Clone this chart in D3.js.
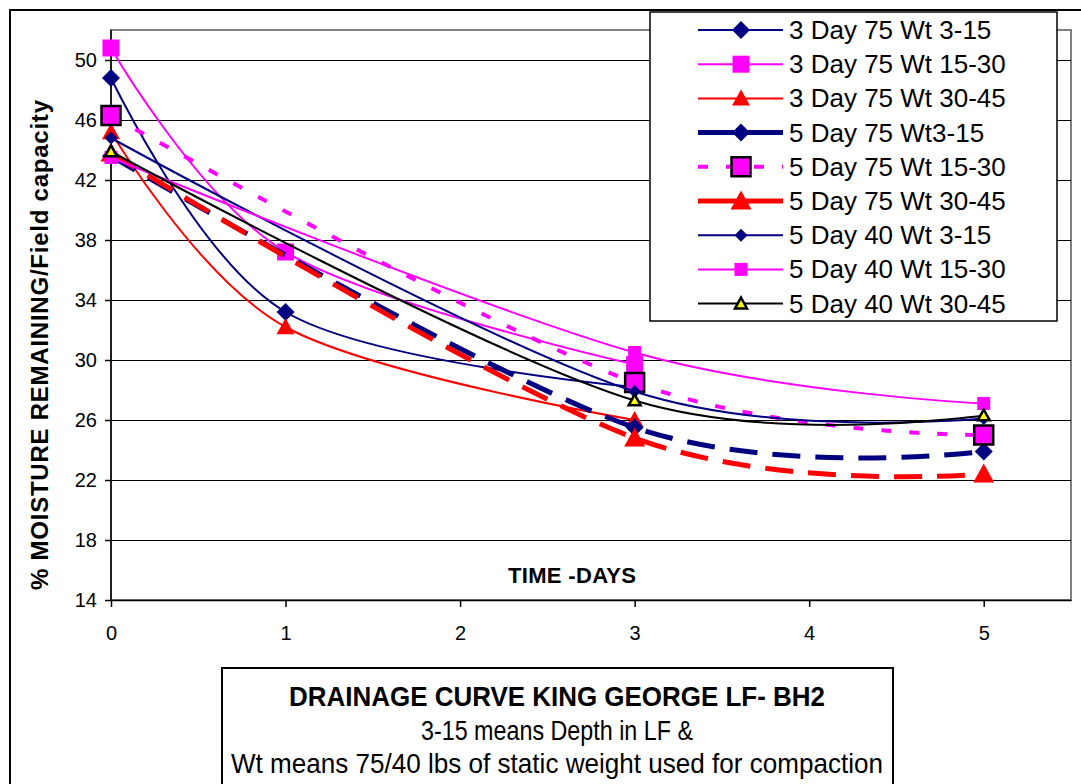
<!DOCTYPE html>
<html>
<head>
<meta charset="utf-8">
<script src="https://cdn.jsdelivr.net/npm/d3@7"></script>
<style>
  body { margin: 0; background: #fff; }
  text { font-family: 'Liberation Sans', Arial, sans-serif; fill: #000; }
</style>
</head>
<body>
<script>
// tick values
const xTicks = [0, 1, 2, 3, 4, 5];
const yTicks = [14, 18, 22, 26, 30, 34, 38, 42, 46, 50];

// sampling days for the 3 day and 5 day runs
const days3 = [0, 1, 3];
const days5 = [0, 3, 5];

// % moisture remaining
const day3wt75d3to15  = [48.8, 33.2, 28.2];
const day3wt75d15to30 = [50.8, 37.2, 29.7];
const day3wt75d30to45 = [45.2, 32.2, 26.0];
const day5wt75d3to15  = [43.6, 25.5, 23.9];
const day5wt75d15to30 = [46.3, 28.5, 25.0];
const day5wt75d30to45 = [43.8, 24.8, 22.4];
const day5wt40d3to15  = [44.8, 27.9, 26.1];
const day5wt40d15to30 = [43.5, 30.5, 27.1];
const day5wt40d30to45 = [43.9, 27.3, 26.3];

const names = [
  '3 Day 75 Wt 3-15', '3 Day 75 Wt 15-30', '3 Day 75 Wt 30-45',
  '5 Day 75 Wt3-15', '5 Day 75 Wt 15-30', '5 Day 75 Wt 30-45',
  '5 Day 40 Wt 3-15', '5 Day 40 Wt 15-30', '5 Day 40 Wt 30-45'
];

const series = [
  { days: days3, values: day3wt75d3to15,  color: '#000080', width: 2, dash: null,    legendDash: null,    marker: 'diamond',  size: 18, fill: '#000080', edge: null },
  { days: days3, values: day3wt75d15to30, color: '#ff00ff', width: 2, dash: null,    legendDash: null,    marker: 'square',   size: 17, fill: '#ff00ff', edge: null },
  { days: days3, values: day3wt75d30to45, color: '#ff0000', width: 2, dash: null,    legendDash: null,    marker: 'triangle', size: 18, fill: '#ff0000', edge: null },
  { days: days5, values: day5wt75d3to15,  color: '#000080', width: 5, dash: '28 15', legendDash: null,    marker: 'diamond',  size: 18, fill: '#000080', edge: null },
  { days: days5, values: day5wt75d15to30, color: '#ff00ff', width: 4, dash: '10 18', legendDash: '10 18', marker: 'square',   size: 19, fill: '#ff00ff', edge: '#000' },
  { days: days5, values: day5wt75d30to45, color: '#ff0000', width: 5, dash: '28 15', legendDash: null,    marker: 'triangle', size: 21, fill: '#ff0000', edge: null },
  { days: days5, values: day5wt40d3to15,  color: '#000080', width: 2, dash: null,    legendDash: null,    marker: 'diamond',  size: 13, fill: '#000080', edge: null },
  { days: days5, values: day5wt40d15to30, color: '#ff00ff', width: 2, dash: null,    legendDash: null,    marker: 'square',   size: 13, fill: '#ff00ff', edge: null },
  { days: days5, values: day5wt40d30to45, color: '#000000', width: 2, dash: null,    legendDash: null,    marker: 'triangle', size: 12, fill: '#ffff00', edge: '#000' }
];

const svg = d3.select('body')
  .append('svg')
    .attr('width', 1081)
    .attr('height', 784);

const plotLeft = 111, plotRight = 1071, plotTop = 30, plotBottom = 600;

const x = d3.scaleLinear().domain([0, 5.5]).range([plotLeft, plotRight]);
const y = d3.scaleLinear().domain([14, 52]).range([plotBottom, plotTop]);

// chart area border (runs off the picture on the right and bottom)
svg.append('rect')
    .attr('x', 10).attr('y', 10)
    .attr('width', 1200).attr('height', 900)
    .attr('fill', '#fff')
    .attr('stroke', '#000')
    .attr('stroke-width', 2);

// plot area frame
svg.append('rect')
    .attr('x', plotLeft).attr('y', plotTop)
    .attr('width', plotRight - plotLeft).attr('height', plotBottom - plotTop)
    .attr('fill', 'none')
    .attr('stroke', '#808080')
    .attr('stroke-width', 2);

svg.append('g')
  .selectAll('line')
  .data(yTicks.slice(1))
  .join('line')
    .attr('x1', plotLeft).attr('x2', plotRight)
    .attr('y1', d => y(d)).attr('y2', d => y(d))
    .attr('stroke', '#000')
    .attr('stroke-width', 1)
    .attr('shape-rendering', 'crispEdges');

const xAxis = svg.append('g')
    .attr('transform', `translate(0,${plotBottom})`)
    .call(d3.axisBottom(x).tickValues(xTicks).tickFormat(d3.format('d'))
      .tickSize(7).tickSizeOuter(0).tickPadding(19));

const yAxis = svg.append('g')
    .attr('transform', `translate(${plotLeft},0)`)
    .call(d3.axisLeft(y).tickValues(yTicks).tickSize(6).tickSizeOuter(0).tickPadding(8));

[xAxis, yAxis].forEach(a => {
  a.selectAll('path, line').attr('stroke', '#000').attr('stroke-width', 1.5);
  a.selectAll('text')
      .attr('font-family', "'Liberation Sans', Arial, sans-serif")
      .attr('font-size', '20px');
});
yAxis.select('.domain').attr('d', `M0,${plotBottom}V${plotTop}`);

svg.append('text')
    .attr('x', 572)
    .attr('y', 583)
    .attr('text-anchor', 'middle')
    .attr('font-size', '22px')
    .attr('font-weight', 'bold')
    .attr('textLength', 128)
    .attr('lengthAdjust', 'spacing')
    .text('TIME -DAYS');

svg.append('text')
    .attr('transform', 'translate(48,345) rotate(-90)')
    .attr('text-anchor', 'middle')
    .attr('font-size', '24px')
    .attr('font-weight', 'bold')
    .attr('textLength', 490)
    .attr('lengthAdjust', 'spacing')
    .text('% MOISTURE REMAINING/Field capacity');

function markerPath(type, size) {
  const s = size / 2;
  if (type === 'diamond') return `M0,${-s}L${s},0L0,${s}L${-s},0Z`;
  if (type === 'triangle') return `M0,${-s}L${s},${s * 0.8}L${-s},${s * 0.8}Z`;
  return `M${-s},${-s}H${s}V${s}H${-s}Z`;
}

const line = d3.line()
    .x(d => x(d[0]))
    .y(d => y(d[1]))
    .curve(d3.curveCardinal.tension(0));

series.forEach(s => {
  const pts = s.days.map((d, i) => [d, s.values[i]]);
  const g = svg.append('g');

  g.append('path')
      .attr('d', line(pts))
      .attr('fill', 'none')
      .attr('stroke', s.color)
      .attr('stroke-width', s.width)
      .attr('stroke-dasharray', s.dash);

  g.selectAll('path.mark')
      .data(pts)
    .join('path')
      .attr('class', 'mark')
      .attr('transform', d => `translate(${x(d[0])},${y(d[1])})`)
      .attr('d', markerPath(s.marker, s.size))
      .attr('fill', s.fill)
      .attr('stroke', s.edge)
      .attr('stroke-width', s.edge ? 2.5 : 0);
});

// legend
const legend = svg.append('g');
legend.append('rect')
    .attr('x', 650).attr('y', 12)
    .attr('width', 407).attr('height', 309)
    .attr('fill', '#fff')
    .attr('stroke', '#000')
    .attr('stroke-width', 1.5);

const row = legend.selectAll('g.row')
    .data(series)
  .join('g')
    .attr('class', 'row')
    .attr('transform', (_, i) => `translate(0,${30 + i * 34.2})`);

row.append('line')
    .attr('x1', 698).attr('x2', 783)
    .attr('stroke', d => d.color)
    .attr('stroke-width', d => d.width)
    .attr('stroke-dasharray', d => d.legendDash);

row.append('path')
    .attr('transform', 'translate(741,0)')
    .attr('d', d => markerPath(d.marker, d.size))
    .attr('fill', d => d.fill)
    .attr('stroke', d => d.edge)
    .attr('stroke-width', d => d.edge ? 2.5 : 0);

row.append('text')
    .attr('x', 789)
    .attr('y', 9)
    .attr('font-size', '26px')
    .text((_, i) => names[i]);

// caption box
const caption = svg.append('g');
caption.append('rect')
    .attr('x', 222).attr('y', 668)
    .attr('width', 671).attr('height', 200)
    .attr('fill', '#fff')
    .attr('stroke', '#000')
    .attr('stroke-width', 2);

const captionLines = [
  { text: 'DRAINAGE CURVE KING GEORGE LF- BH2', y: 706, len: 536, bold: true },
  { text: '3-15 means Depth in LF &', y: 740, len: 272, bold: false },
  { text: 'Wt means 75/40 lbs of static weight used for compaction', y: 773, len: 652, bold: false }
];

caption.selectAll('text')
    .data(captionLines)
  .join('text')
    .attr('x', 557)
    .attr('y', d => d.y)
    .attr('text-anchor', 'middle')
    .attr('font-size', '28px')
    .attr('font-weight', d => d.bold ? 'bold' : 'normal')
    .attr('textLength', d => d.len)
    .attr('lengthAdjust', 'spacingAndGlyphs')
    .text(d => d.text);
</script>
</body>
</html>
